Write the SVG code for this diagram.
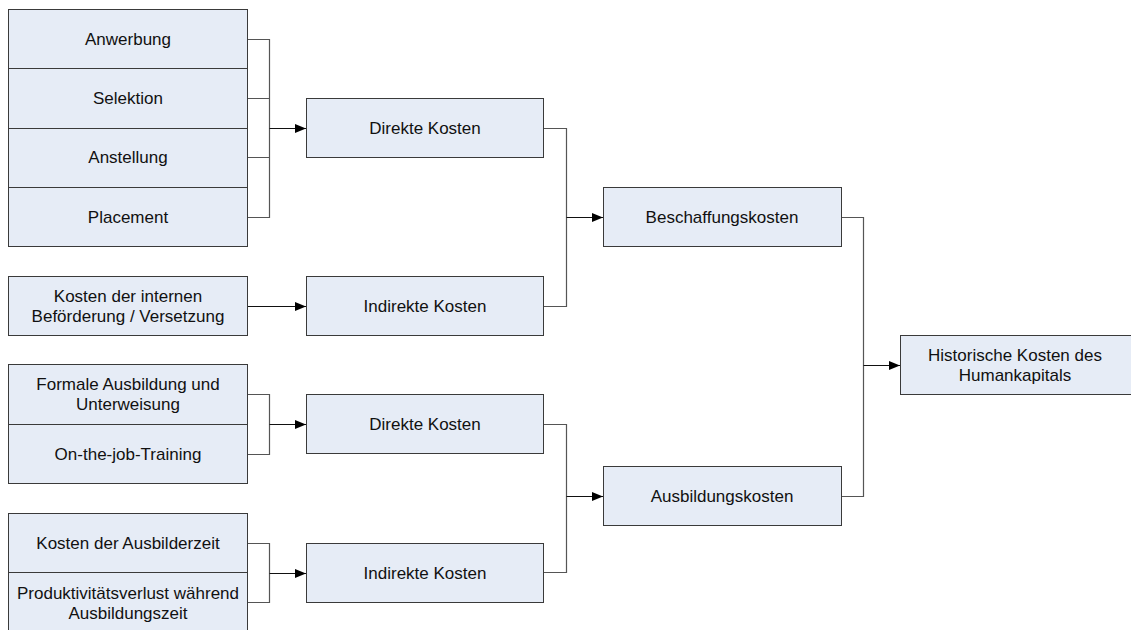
<svg xmlns="http://www.w3.org/2000/svg" width="1131" height="630" viewBox="0 0 1131 630">
<defs>
<style>
.box{fill:#E6ECF6;stroke:#3a3a3a;stroke-width:1}
.t{font-family:"Liberation Sans",Arial,sans-serif;font-size:17px;fill:#111;text-anchor:middle}
.c{fill:none;stroke:#555;stroke-width:1.2}
.a{fill:none;stroke:#111;stroke-width:1.2;marker-end:url(#ah)}
</style>
<marker id="ah" viewBox="0 0 11 10" refX="11" refY="5" markerWidth="11" markerHeight="10" markerUnits="userSpaceOnUse" orient="auto">
<path d="M0,0.5 L11,5 L0,9.5 Z" fill="#000"/>
</marker>
</defs>
<rect width="1131" height="630" fill="#fff"/>
<g id="connectors">
<path class="c" d="M247.5,39.5 H269.5 V217.5 H247.5 M247.5,98.5 H269.5 M247.5,157.5 H269.5"/>
<path class="a" d="M269.5,128.5 H306"/>
<path class="a" d="M247.5,306.5 H306"/>
<path class="c" d="M247.5,394.5 H269.5 V454.5 H247.5"/>
<path class="a" d="M269.5,424.5 H306"/>
<path class="c" d="M247.5,543.5 H269.5 V602.5 H247.5"/>
<path class="a" d="M269.5,573.5 H306"/>
<path class="c" d="M543.5,128.5 H566.5 V306.5 H543.5"/>
<path class="a" d="M566.5,217.5 H603"/>
<path class="c" d="M543.5,424.5 H566.5 V572.5 H543.5"/>
<path class="a" d="M566.5,496.5 H603"/>
<path class="c" d="M841.5,217.5 H863.5 V496.5 H841.5"/>
<path class="a" d="M863.5,365.5 H900"/>
</g>
<g id="n-anwerbung"><rect class="box" x="8.5" y="9.5" width="239" height="59"/><text class="t" x="128" y="45">Anwerbung</text></g>
<g id="n-selektion"><rect class="box" x="8.5" y="68.5" width="239" height="60"/><text class="t" x="128" y="104">Selektion</text></g>
<g id="n-anstellung"><rect class="box" x="8.5" y="128.5" width="239" height="59"/><text class="t" x="128" y="163">Anstellung</text></g>
<g id="n-placement"><rect class="box" x="8.5" y="187.5" width="239" height="59"/><text class="t" x="128" y="223">Placement</text></g>
<g id="n-interne"><rect class="box" x="8.5" y="276.5" width="239" height="59"/><text class="t" x="128" y="302">Kosten der internen</text><text class="t" x="128" y="322">Beförderung / Versetzung</text></g>
<g id="n-formale"><rect class="box" x="8.5" y="364.5" width="239" height="60"/><text class="t" x="128" y="390">Formale Ausbildung und</text><text class="t" x="128" y="410">Unterweisung</text></g>
<g id="n-onthejob"><rect class="box" x="8.5" y="424.5" width="239" height="59"/><text class="t" x="128" y="460">On-the-job-Training</text></g>
<g id="n-ausbilderzeit"><rect class="box" x="8.5" y="513.5" width="239" height="59"/><text class="t" x="128" y="549">Kosten der Ausbilderzeit</text></g>
<g id="n-produktivitaet"><rect class="box" x="8.5" y="572.5" width="239" height="62"/><text class="t" x="128" y="599">Produktivitätsverlust während</text><text class="t" x="128" y="619">Ausbildungszeit</text></g>
<g id="n-direkte1"><rect class="box" x="306.5" y="98.5" width="237" height="59"/><text class="t" x="425" y="134">Direkte Kosten</text></g>
<g id="n-indirekte1"><rect class="box" x="306.5" y="276.5" width="237" height="59"/><text class="t" x="425" y="312">Indirekte Kosten</text></g>
<g id="n-direkte2"><rect class="box" x="306.5" y="394.5" width="237" height="59"/><text class="t" x="425" y="430">Direkte Kosten</text></g>
<g id="n-indirekte2"><rect class="box" x="306.5" y="543.5" width="237" height="59"/><text class="t" x="425" y="579">Indirekte Kosten</text></g>
<g id="n-beschaffung"><rect class="box" x="603.5" y="187.5" width="238" height="59"/><text class="t" x="722" y="223">Beschaffungskosten</text></g>
<g id="n-ausbildung"><rect class="box" x="603.5" y="466.5" width="238" height="59"/><text class="t" x="722" y="502">Ausbildungskosten</text></g>
<g id="n-historische"><rect class="box" x="900.5" y="335.5" width="236" height="59"/><text class="t" x="1015" y="361">Historische Kosten des</text><text class="t" x="1015" y="381">Humankapitals</text></g>
</svg>
